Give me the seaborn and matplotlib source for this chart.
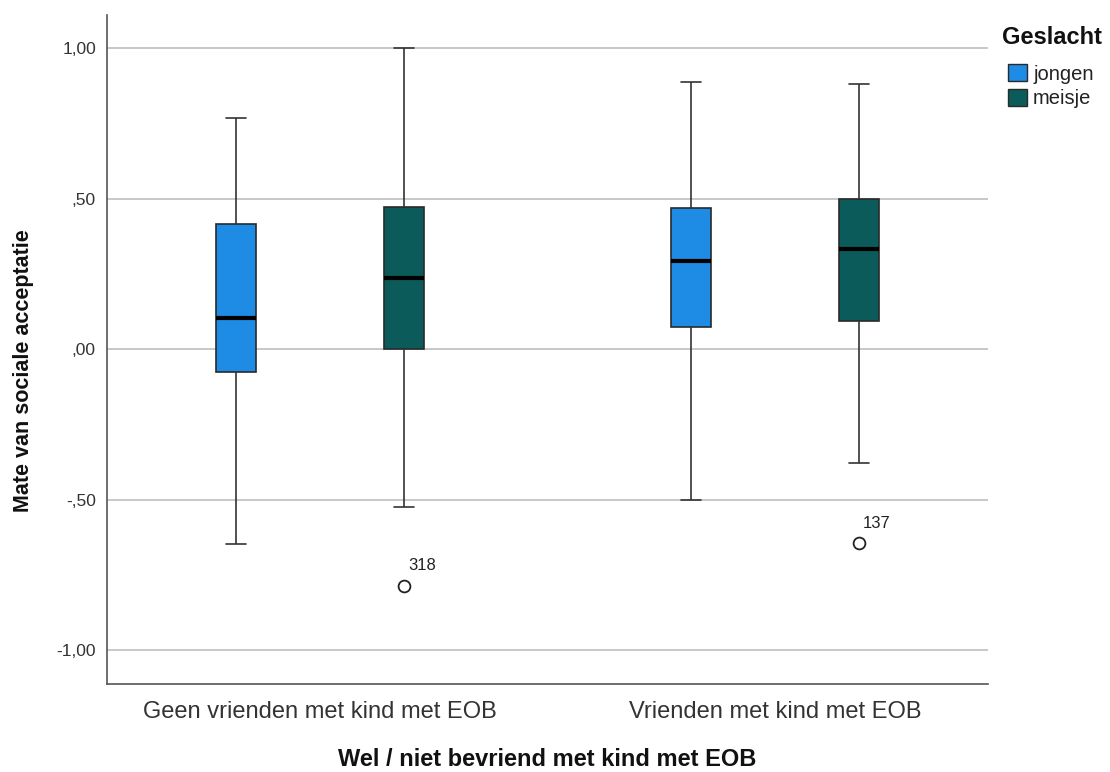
import numpy as np
import pandas as pd
import matplotlib
matplotlib.use("Agg")
import matplotlib.pyplot as plt
import seaborn as sns
from matplotlib.patches import Patch

# Groups and genders
groups = ["Geen vrienden met kind met EOB", "Vrienden met kind met EOB"]
genders = ["jongen", "meisje"]

# Five-number summaries per (group, gender): low whisker, Q1, median, Q3, high whisker
low_whisker = [-0.648, -0.525, -0.502, -0.379]
q1 = [-0.076, 0.000, 0.073, 0.093]
median = [0.103, 0.236, 0.292, 0.332]
q3 = [0.415, 0.472, 0.468, 0.498]
high_whisker = [0.767, 1.000, 0.887, 0.880]
# Outliers (value, case label) per box; None where there is none
outliers = [None, (-0.787, "318"), None, (-0.645, "137")]

rows = []
k = 0
for g in groups:
    for s in genders:
        vals = [low_whisker[k], q1[k], median[k], q3[k], high_whisker[k]]
        if outliers[k] is not None:
            # doubled quartiles/whisker keep the quartiles in place with 9 points
            vals = [outliers[k][0], low_whisker[k], q1[k], q1[k], median[k],
                    q3[k], q3[k], high_whisker[k], high_whisker[k]]
        for v in vals:
            rows.append({"groep": g, "Geslacht": s, "waarde": v})
        k += 1
df = pd.DataFrame(rows)

sns.set_style("white")
plt.rcParams["font.family"] = ["Liberation Sans", "DejaVu Sans"]

fig = plt.figure(figsize=(11.10, 7.72), dpi=100)
ax = fig.add_axes([107 / 1110, 1 - 684 / 772, (988 - 107) / 1110, (684 - 15) / 772])

palette = {"jongen": "#1e8be4", "meisje": "#0b5b5b"}
sns.boxplot(
    data=df, x="groep", y="waarde", hue="Geslacht", order=groups,
    hue_order=genders, palette=palette, saturation=1, width=0.74, gap=0.76,
    whis=1.5, linewidth=1.2, linecolor="#2a2a2a",
    medianprops=dict(color="black", linewidth=3),
    whiskerprops=dict(color="#333333", linewidth=1.2),
    capprops=dict(color="#333333", linewidth=1.2),
    flierprops=dict(marker="o", markersize=8.5, markerfacecolor="white",
                    markeredgecolor="#222222", markeredgewidth=1.3),
    legend=False, ax=ax,
)

# Caps at half the box width
cap_half = 0.022
for line in ax.lines:
    xd = np.asarray(line.get_xdata(), dtype=float)
    yd = np.asarray(line.get_ydata(), dtype=float)
    if len(xd) == 2 and yd[0] == yd[1] and xd[0] != xd[1] and line.get_linewidth() < 2:
        c = xd.mean()
        line.set_xdata([c - cap_half, c + cap_half])

# Case labels next to outliers
offsets = {0: -0.185, 1: 0.185}
k = 0
for gi, g in enumerate(groups):
    for si, s in enumerate(genders):
        if outliers[k] is not None:
            val, lab = outliers[k]
            ax.annotate(lab, xy=(gi + offsets[si], val), xytext=(3, 9),
                        textcoords="offset points", fontsize=12, color="#222222",
                        ha="left", va="bottom")
        k += 1

ax.set_ylim(-1.113, 1.11)
ax.set_xlim(-0.469, 1.469)
yt = [-1.0, -0.5, 0.0, 0.5, 1.0]
ax.set_yticks(yt)
ax.set_yticklabels(["-1,00", "-,50", ",00", ",50", "1,00"], fontsize=12.5, color="#333333")
ax.tick_params(axis="y", length=0, pad=8)
ax.tick_params(axis="x", length=0, pad=12, labelsize=17, labelcolor="#333333")
ax.yaxis.grid(True, color="#c4c4c4", linewidth=1.3)
ax.set_axisbelow(True)
for side in ["top", "right"]:
    ax.spines[side].set_visible(False)
for side in ["left", "bottom"]:
    ax.spines[side].set_color("#555555")
    ax.spines[side].set_linewidth(1.2)

ax.set_xlabel("Wel / niet bevriend met kind met EOB", fontsize=17,
              fontweight="bold", labelpad=18, color="#111111")
ax.set_ylabel("Mate van sociale acceptatie", fontsize=15.5,
              fontweight="bold", color="#111111")
ax.yaxis.set_label_coords(-73 / 881, (684 - 371) / 669)

# Legend: title drawn as figure text, entries as a legend below it
fig.text(1002 / 1110, 1 - 38 / 772, "Geslacht", fontsize=17, fontweight="bold",
         color="#111111", ha="left", va="center")
handles = [Patch(facecolor=palette[s], edgecolor="#2a2a2a", label=s) for s in genders]
leg = fig.legend(handles=handles, loc="upper left",
                 bbox_to_anchor=(1008 / 1110, 1 - 64 / 772), frameon=False,
                 fontsize=14.5, handlelength=0.95, handleheight=0.95,
                 handletextpad=0.3, labelspacing=0.25, borderpad=0,
                 borderaxespad=0)
for t in leg.get_texts():
    t.set_color("#222222")

fig.savefig("out.png", dpi=100)
